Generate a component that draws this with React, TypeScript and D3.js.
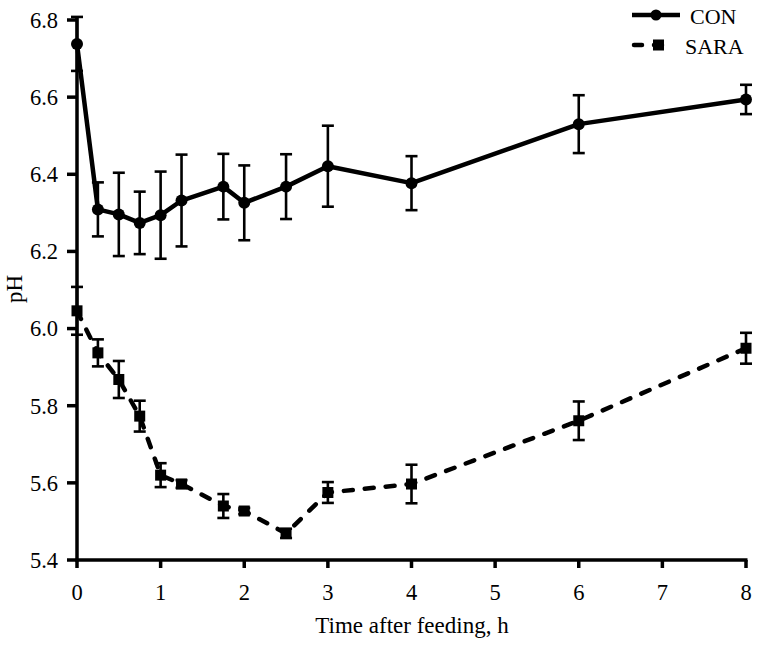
import * as d3 from "d3";

const hours = [0, 0.25, 0.5, 0.75, 1, 1.25, 1.75, 2, 2.5, 3, 4, 6, 8];
const conMean = [6.738, 6.309, 6.296, 6.274, 6.294, 6.332, 6.368, 6.326, 6.368, 6.421, 6.377, 6.53, 6.594];
const conErr = [0.07, 0.07, 0.108, 0.081, 0.113, 0.119, 0.085, 0.097, 0.084, 0.105, 0.07, 0.075, 0.038];
const saraMean = [6.046, 5.937, 5.868, 5.773, 5.62, 5.597, 5.54, 5.527, 5.469, 5.575, 5.597, 5.761, 5.949];
const saraErr = [0.062, 0.035, 0.048, 0.04, 0.031, 0.01, 0.031, 0.008, 0.012, 0.027, 0.05, 0.05, 0.04];
const xTicks = [0, 1, 2, 3, 4, 5, 6, 7, 8];
const yTicks = [5.4, 5.6, 5.8, 6.0, 6.2, 6.4, 6.6, 6.8];

const W = 765;
const H = 648;
const txt = { fontFamily: "Liberation Serif, DejaVu Serif, serif" };

export default function App() {
  const x = d3.scaleLinear().domain([0, 8]).range([77, 746]);
  const y = d3.scaleLinear().domain([5.4, 6.8]).range([560, 20]);

  const line = d3
    .line<number>()
    .x((_, i) => x(hours[i]))
    .y((d) => y(d));

  const errBars = (mean: number[], err: number[], key: string) =>
    mean.map((m, i) => {
      const cx = x(hours[i]);
      const y1 = y(m + err[i]);
      const y2 = y(m - err[i]);
      return (
        <g key={`${key}${i}`} stroke="#000" strokeWidth={2.6}>
          <line x1={cx} x2={cx} y1={y1} y2={y2} />
          <line x1={cx - 6} x2={cx + 6} y1={y1} y2={y1} />
          <line x1={cx - 6} x2={cx + 6} y1={y2} y2={y2} />
        </g>
      );
    });

  return (
    <svg
      width={W}
      height={H}
      style={{ position: "absolute", left: 0, top: 0, background: "#fff" }}
    >
      {/* error bars */}
      {errBars(conMean, conErr, "c")}
      {errBars(saraMean, saraErr, "s")}

      {/* series lines */}
      <path d={line(conMean)!} fill="none" stroke="#000" strokeWidth={4.5} strokeLinejoin="round" />
      <path
        d={line(saraMean)!}
        fill="none"
        stroke="#000"
        strokeWidth={4.5}
        strokeDasharray="9 12"
        strokeLinecap="round"
      />

      {/* markers */}
      {conMean.map((m, i) => (
        <circle key={`cm${i}`} cx={x(hours[i])} cy={y(m)} r={6} fill="#000" />
      ))}
      {saraMean.map((m, i) => (
        <rect key={`sm${i}`} x={x(hours[i]) - 5.5} y={y(m) - 5.5} width={11} height={11} fill="#000" />
      ))}

      {/* y axis */}
      <line x1={x(0)} x2={x(0)} y1={y(6.8) - 2} y2={y(5.4) + 1.5} stroke="#000" strokeWidth={3.5} />
      {yTicks.map((t) => (
        <g key={`yt${t}`}>
          <line x1={x(0) - 10} x2={x(0)} y1={y(t)} y2={y(t)} stroke="#000" strokeWidth={3.5} />
          <text x={x(0) - 19} y={y(t)} dy="0.35em" textAnchor="end" fontSize={22.5} style={txt}>
            {t.toFixed(1)}
          </text>
        </g>
      ))}

      {/* x axis */}
      <line x1={x(0) - 1.5} x2={x(8) + 1.5} y1={y(5.4)} y2={y(5.4)} stroke="#000" strokeWidth={3.5} />
      {xTicks.map((t) => (
        <g key={`xt${t}`}>
          <line x1={x(t)} x2={x(t)} y1={y(5.4)} y2={y(5.4) + 8} stroke="#000" strokeWidth={3.5} />
          <text x={x(t)} y={600} textAnchor="middle" fontSize={22.5} style={txt}>
            {t}
          </text>
        </g>
      ))}

      {/* axis titles */}
      <text x={412} y={633} textAnchor="middle" fontSize={23} style={txt}>
        Time after feeding, h
      </text>
      <text transform="translate(22,289) rotate(-90)" textAnchor="middle" fontSize={23} style={txt}>
        pH
      </text>

      {/* legend */}
      <g>
        <line x1={632} x2={680} y1={15} y2={15} stroke="#000" strokeWidth={4.5} />
        <circle cx={656} cy={15} r={5.5} fill="#000" />
        <text x={690} y={16} dy="0.35em" fontSize={22} style={txt}>
          CON
        </text>
        <line
          x1={634}
          x2={665}
          y1={45}
          y2={45}
          stroke="#000"
          strokeWidth={4.5}
          strokeDasharray="8 12"
          strokeLinecap="round"
        />
        <rect x={653} y={39.5} width={11} height={11} fill="#000" />
        <text x={685} y={46} dy="0.35em" fontSize={22} style={txt}>
          SARA
        </text>
      </g>
    </svg>
  );
}
